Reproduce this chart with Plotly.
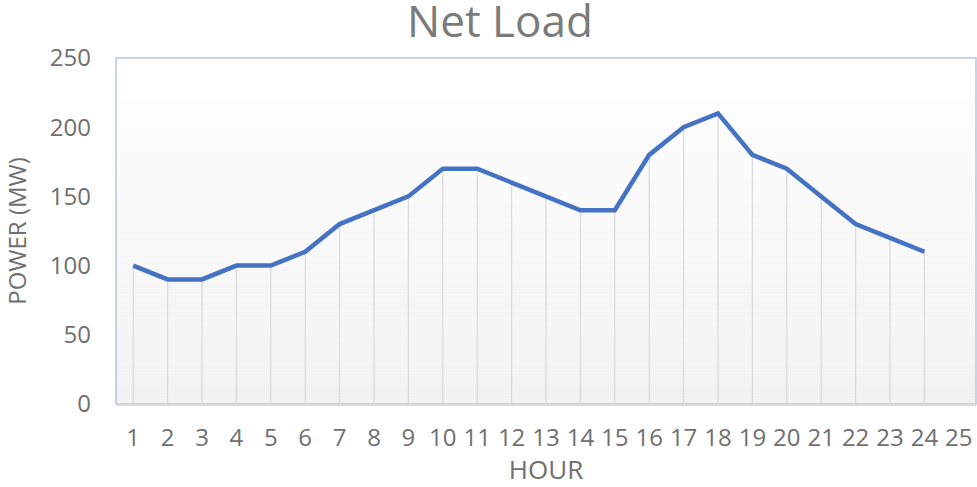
import plotly.graph_objects as go

hours = list(range(1, 25))
net_load = [100, 90, 90, 100, 100, 110, 130, 140, 150, 170, 170, 160,
            150, 140, 140, 180, 200, 210, 180, 170, 150, 130, 120, 110]
x_tick_labels = [str(h) for h in range(1, 26)]
y_ticks = [0, 50, 100, 150, 200, 250]

FONT = "Open Sans"
TEXT = "#6f6f6f"

W, H = 977, 487

fig = go.Figure()

# drop lines (vertical lines from each point to the axis)
fig.add_trace(go.Scatter(
    x=hours, y=net_load, mode="markers",
    marker=dict(size=1, color="rgba(0,0,0,0)"),
    error_y=dict(type="data", symmetric=False,
                 array=[0] * len(net_load), arrayminus=net_load,
                 color="#d9d9d9", thickness=1.2, width=0),
    hoverinfo="skip", showlegend=False,
))

fig.add_trace(go.Scatter(
    x=hours, y=net_load, mode="lines",
    line=dict(color="#4472C4", width=4.5),
    showlegend=False, name="Net Load",
))

# vertical gradient background of the plot area
n_bands = 60
shapes = []
for i in range(n_bands):
    t = i / (n_bands - 1)          # 0 at bottom, 1 at top
    g = round(242 + (255 - 242) * t)
    shapes.append(dict(
        type="rect", xref="x domain", yref="y domain",
        x0=0, x1=1, y0=i / n_bands, y1=(i + 1) / n_bands,
        fillcolor=f"rgb({g},{g},{g})", line=dict(width=0), layer="below",
    ))
shapes.append(dict(
    type="rect", xref="x domain", yref="y domain",
    x0=0, x1=1, y0=0, y1=1,
    fillcolor="rgba(0,0,0,0)", line=dict(color="#b4c7e7", width=1.5),
    layer="below",
))

fig.update_layout(
    width=W, height=H,
    margin=dict(l=116, r=1, t=58, b=83, autoexpand=False),
    paper_bgcolor="white", plot_bgcolor="white",
    shapes=shapes,
    title=dict(text="Net Load", x=500 / W, xanchor="center",
               y=1 - 22 / H, yanchor="middle", automargin=False,
               font=dict(family=FONT, size=44, color="#7b7b7b")),
    font=dict(family=FONT, color=TEXT),
    xaxis=dict(
        range=[0.5, 25.5], tickmode="array",
        tickvals=list(range(1, 26)), ticktext=x_tick_labels,
        showgrid=False, zeroline=False, automargin=True,
        showline=True, linecolor="#d9d9d9", linewidth=1.5,
        ticks="", tickfont=dict(family=FONT, size=24, color=TEXT),
        ticklabelstandoff=11,
        title=dict(text="HOUR", font=dict(family=FONT, size=26, color=TEXT),
                   standoff=18),
        fixedrange=True,
    ),
    yaxis=dict(
        range=[0, 250], tickmode="array", tickvals=y_ticks,
        showgrid=False, zeroline=False, showline=False, automargin=False,
        ticks="", tickfont=dict(family=FONT, size=24, color=TEXT),
        ticklabelstandoff=24,
        title=dict(text="POWER (MW)", font=dict(family=FONT, size=24, color=TEXT),
                   standoff=21),
        fixedrange=True,
    ),
)

fig.write_html(
    "out.html",
    config={"displayModeBar": False},
    post_script="document.body.style.margin='0';document.body.style.overflow='hidden';",
)
